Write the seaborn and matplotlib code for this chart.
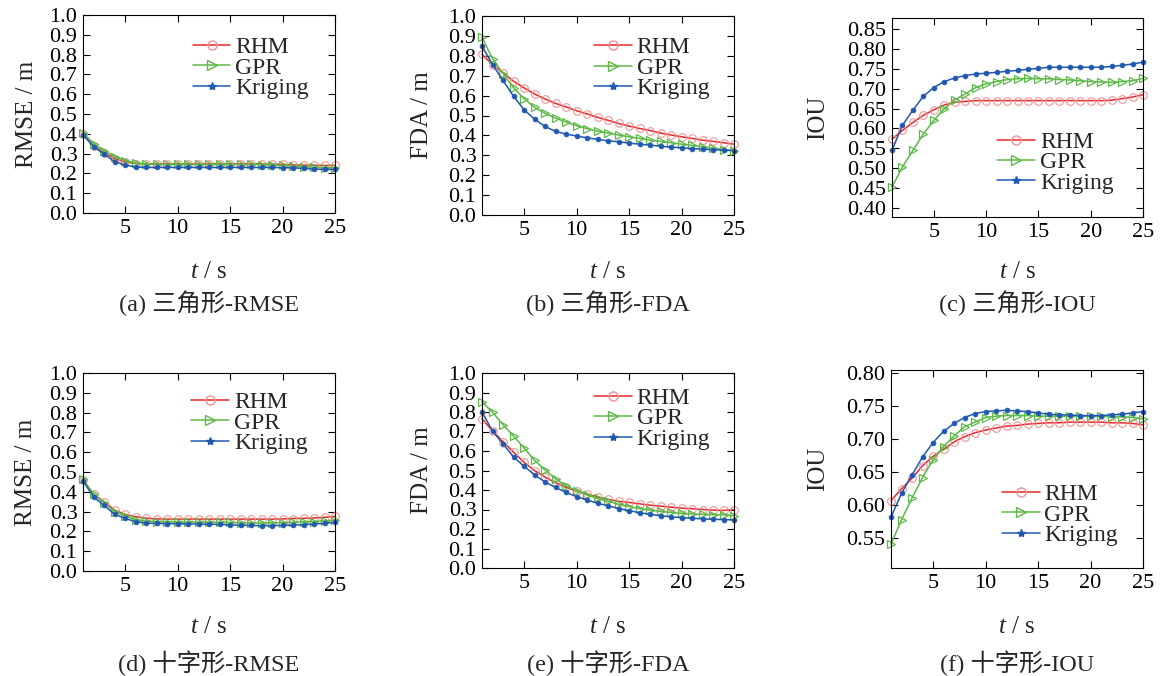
import numpy as np
import pandas as pd
import seaborn as sns
import matplotlib.pyplot as plt
from matplotlib.lines import Line2D

t = list(range(1, 26))

# (a) triangle RMSE
rmse_tri_rhm = [0.400, 0.340, 0.305, 0.275, 0.258, 0.250, 0.248, 0.248, 0.248, 0.248, 0.248, 0.248, 0.248,
                0.248, 0.248, 0.248, 0.248, 0.248, 0.247, 0.245, 0.243, 0.242, 0.241, 0.240, 0.240]
rmse_tri_gpr = [0.405, 0.350, 0.315, 0.285, 0.265, 0.252, 0.247, 0.246, 0.245, 0.245, 0.245, 0.245, 0.245,
                0.245, 0.245, 0.245, 0.245, 0.244, 0.243, 0.240, 0.236, 0.233, 0.231, 0.229, 0.228]
rmse_tri_krg = [0.395, 0.335, 0.298, 0.260, 0.242, 0.233, 0.230, 0.230, 0.230, 0.230, 0.230, 0.230, 0.230,
                0.230, 0.230, 0.230, 0.230, 0.230, 0.230, 0.229, 0.228, 0.225, 0.222, 0.220, 0.220]

# (b) triangle FDA
fda_tri_rhm = [0.807, 0.756, 0.714, 0.672, 0.639, 0.608, 0.583, 0.561, 0.543, 0.524, 0.508, 0.491, 0.476,
               0.460, 0.447, 0.435, 0.424, 0.412, 0.402, 0.393, 0.385, 0.376, 0.370, 0.363, 0.356]
fda_tri_gpr = [0.894, 0.785, 0.711, 0.639, 0.585, 0.541, 0.511, 0.487, 0.467, 0.449, 0.434, 0.422, 0.412,
               0.402, 0.393, 0.385, 0.376, 0.370, 0.363, 0.356, 0.350, 0.343, 0.336, 0.329, 0.323]
fda_tri_krg = [0.849, 0.756, 0.676, 0.597, 0.529, 0.482, 0.445, 0.420, 0.407, 0.397, 0.388, 0.380, 0.373,
               0.368, 0.361, 0.356, 0.351, 0.346, 0.341, 0.338, 0.334, 0.331, 0.328, 0.326, 0.324]

# (c) triangle IOU
iou_tri_rhm = [0.573, 0.595, 0.615, 0.633, 0.647, 0.659, 0.666, 0.668, 0.670, 0.670, 0.670, 0.670, 0.670,
               0.670, 0.670, 0.670, 0.670, 0.670, 0.670, 0.670, 0.670, 0.671, 0.675, 0.679, 0.685]
iou_tri_gpr = [0.453, 0.503, 0.545, 0.586, 0.620, 0.650, 0.672, 0.687, 0.703, 0.712, 0.718, 0.723, 0.725,
               0.726, 0.725, 0.725, 0.723, 0.722, 0.720, 0.718, 0.717, 0.716, 0.718, 0.720, 0.726]
iou_tri_krg = [0.545, 0.608, 0.646, 0.681, 0.703, 0.718, 0.727, 0.733, 0.737, 0.739, 0.741, 0.744, 0.746,
               0.749, 0.751, 0.754, 0.754, 0.754, 0.754, 0.754, 0.754, 0.756, 0.759, 0.762, 0.767]

# (d) cross RMSE
rmse_crs_rhm = [0.460, 0.388, 0.350, 0.308, 0.286, 0.274, 0.267, 0.263, 0.262, 0.262, 0.262, 0.262, 0.262,
                0.262, 0.262, 0.262, 0.262, 0.262, 0.262, 0.263, 0.265, 0.266, 0.268, 0.271, 0.276]
rmse_crs_gpr = [0.465, 0.387, 0.345, 0.300, 0.279, 0.259, 0.252, 0.250, 0.249, 0.248, 0.247, 0.247, 0.246,
                0.246, 0.245, 0.243, 0.242, 0.242, 0.243, 0.244, 0.246, 0.248, 0.250, 0.253, 0.257]
rmse_crs_krg = [0.454, 0.375, 0.331, 0.287, 0.266, 0.249, 0.242, 0.240, 0.239, 0.239, 0.238, 0.237, 0.236,
                0.235, 0.233, 0.231, 0.230, 0.229, 0.229, 0.230, 0.232, 0.234, 0.237, 0.241, 0.246]

# (e) cross FDA
fda_crs_rhm = [0.765, 0.703, 0.648, 0.594, 0.542, 0.500, 0.466, 0.438, 0.413, 0.394, 0.378, 0.364, 0.352,
               0.342, 0.336, 0.329, 0.322, 0.317, 0.312, 0.307, 0.304, 0.300, 0.297, 0.295, 0.300]
fda_crs_gpr = [0.852, 0.799, 0.735, 0.676, 0.616, 0.552, 0.503, 0.458, 0.421, 0.396, 0.374, 0.357, 0.342,
               0.327, 0.315, 0.305, 0.297, 0.290, 0.285, 0.280, 0.277, 0.275, 0.273, 0.273, 0.267]
fda_crs_krg = [0.799, 0.703, 0.636, 0.570, 0.522, 0.478, 0.441, 0.413, 0.388, 0.366, 0.349, 0.332, 0.319,
               0.305, 0.294, 0.284, 0.275, 0.268, 0.262, 0.258, 0.255, 0.252, 0.250, 0.248, 0.247]

# (f) cross IOU
iou_crs_rhm = [0.607, 0.625, 0.641, 0.660, 0.674, 0.685, 0.696, 0.704, 0.710, 0.714, 0.717, 0.720, 0.721,
               0.723, 0.724, 0.725, 0.725, 0.726, 0.726, 0.726, 0.726, 0.725, 0.725, 0.724, 0.722]
iou_crs_gpr = [0.541, 0.578, 0.611, 0.642, 0.669, 0.689, 0.705, 0.719, 0.726, 0.733, 0.735, 0.736, 0.736,
               0.736, 0.735, 0.735, 0.735, 0.735, 0.735, 0.735, 0.735, 0.734, 0.734, 0.733, 0.731]
iou_crs_krg = [0.582, 0.618, 0.646, 0.673, 0.695, 0.712, 0.724, 0.733, 0.739, 0.742, 0.743, 0.744, 0.743,
               0.742, 0.740, 0.738, 0.737, 0.737, 0.736, 0.736, 0.736, 0.737, 0.738, 0.740, 0.742]

methods = ['RHM', 'GPR', 'Kriging']
captions = ['(a) 三角形-RMSE', '(b) 三角形-FDA', '(c) 三角形-IOU',
            '(d) 十字形-RMSE', '(e) 十字形-FDA', '(f) 十字形-IOU']
ylabels = ['RMSE / m', 'FDA / m', 'IOU', 'RMSE / m', 'FDA / m', 'IOU']

sns.set_style('ticks')
plt.rcParams['font.family'] = ['Liberation Serif', 'Noto Sans CJK SC']
plt.rcParams['mathtext.fontset'] = 'custom'
plt.rcParams['mathtext.it'] = 'Liberation Serif:italic'
plt.rcParams['mathtext.rm'] = 'Liberation Serif'

red, green, blue = '#e8262b', '#5cb947', '#2159b0'
styles = {
    'RHM': dict(color=red, marker='o', markersize=5.5, markerfacecolor='none',
                markeredgecolor='#f29393', markeredgewidth=0.8),
    'GPR': dict(color=green, marker='>', markersize=5.5, markerfacecolor='none',
                markeredgecolor=green, markeredgewidth=0.9),
    'Kriging': dict(color=blue, marker='o', markersize=3.5, markerfacecolor=blue,
                    markeredgecolor=blue, markeredgewidth=0.5),
}

# box = left, top, width, height in pixels; ylx = ylabel centre x; row = 0/1
panels = [
    dict(data=[rmse_tri_rhm, rmse_tri_gpr, rmse_tri_krg], box=(83, 15, 252, 198), ylx=27, row=0,
         ylim=(0, 1.0), yt=np.arange(0, 1.01, 0.1), fmt='%.1f', leg=(0.435, 0.89)),
    dict(data=[fda_tri_rhm, fda_tri_gpr, fda_tri_krg], box=(482, 16, 252, 199), ylx=422, row=0,
         ylim=(0, 1.0), yt=np.arange(0, 1.01, 0.1), fmt='%.1f', leg=(0.445, 0.895)),
    dict(data=[iou_tri_rhm, iou_tri_gpr, iou_tri_krg], box=(892, 18, 251, 199), ylx=818, row=0,
         ylim=(0.377, 0.878), yt=np.arange(0.40, 0.851, 0.05), fmt='%.2f', leg=(0.42, 0.43)),
    dict(data=[rmse_crs_rhm, rmse_crs_gpr, rmse_crs_krg], box=(83, 373, 252, 198), ylx=26, row=1,
         ylim=(0, 1.0), yt=np.arange(0, 1.01, 0.1), fmt='%.1f', leg=(0.43, 0.905)),
    dict(data=[fda_crs_rhm, fda_crs_gpr, fda_crs_krg], box=(482, 373, 252, 195), ylx=422, row=1,
         ylim=(0, 1.0), yt=np.arange(0, 1.01, 0.1), fmt='%.1f', leg=(0.445, 0.925)),
    dict(data=[iou_crs_rhm, iou_crs_gpr, iou_crs_krg], box=(891, 370, 252, 198), ylx=818, row=1,
         ylim=(0.505, 0.805), yt=np.arange(0.55, 0.801, 0.05), fmt='%.2f', leg=(0.44, 0.425)),
]
xlabel_y = [272, 627]
caption_y = [303, 663]

W, H = 1160, 676
fig = plt.figure(figsize=(W / 100, H / 100), dpi=100)

for i, p in enumerate(panels):
    x0, y0, w, h = p['box']
    ax = fig.add_axes([x0 / W, (H - y0 - h) / H, w / W, h / H])
    for name, vals in zip(methods, p['data']):
        df = pd.DataFrame({'t': t, 'v': vals})
        sns.lineplot(data=df, x='t', y='v', ax=ax, linewidth=1.1, legend=False,
                     clip_on=False, **styles[name])
    ax.set_xlim(1, 25)
    ax.set_ylim(*p['ylim'])
    ax.set_xticks([5, 10, 15, 20, 25])
    ax.set_yticks(p['yt'])
    ax.set_yticklabels([p['fmt'] % v for v in p['yt']])
    ax.tick_params(direction='in', top=True, right=True, length=5, width=0.8,
                   labelsize=16, pad=4, colors='black')
    for s in ax.spines.values():
        s.set_linewidth(0.8)
        s.set_color('black')
    ax.set_xlabel('')
    ax.set_ylabel(ylabels[i], fontsize=18, va='center')
    ax.yaxis.set_label_coords((p['ylx'] - x0) / w, 0.5)

    cx = (x0 + w / 2) / W
    fig.text(cx, 1 - xlabel_y[p['row']] / H, r'$t$ / s', fontsize=18, ha='center', va='center')
    fig.text(cx, 1 - caption_y[p['row']] / H, captions[i], fontsize=17.5, ha='center', va='center')

    handles = [
        Line2D([], [], color=red, marker='o', markersize=6.5, markerfacecolor='none',
               markeredgecolor='#f29393', linewidth=1.1),
        Line2D([], [], color=green, marker='>', markersize=7, markerfacecolor='none',
               markeredgecolor=green, linewidth=1.1),
        Line2D([], [], color=blue, marker='*', markersize=6, markerfacecolor=blue,
               markeredgecolor=blue, linewidth=1.1),
    ]
    ax.legend(handles, methods, loc='upper left', bbox_to_anchor=p['leg'], frameon=False,
              fontsize=17, numpoints=1, handlelength=1.6, handletextpad=0.2,
              labelspacing=-0.05, borderpad=0, borderaxespad=0)

fig.savefig('out.png', dpi=100)
